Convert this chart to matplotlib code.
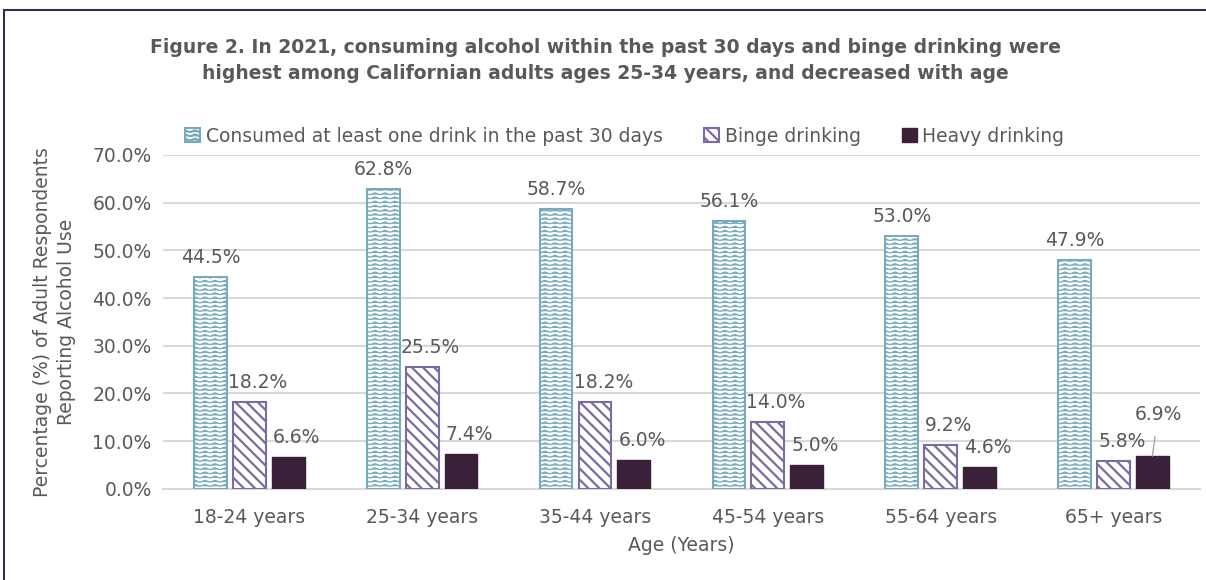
"""Alcohol use by age group, California 2021"""

import numpy as np
import matplotlib
matplotlib.use('Agg')
import matplotlib.pyplot as plt
import matplotlib.hatch as mhatch
from matplotlib.path import Path
from matplotlib.patches import Rectangle

ages = ['18-24 years', '25-34 years', '35-44 years', '45-54 years', '55-64 years', '65+ years']
consumed = [44.5, 62.8, 58.7, 56.1, 53.0, 47.9]
binge = [18.2, 25.5, 18.2, 14.0, 9.2, 5.8]
heavy = [6.6, 7.4, 6.0, 5.0, 4.6, 6.9]
series_names = ['Consumed at least one drink in the past 30 days', 'Binge drinking', 'Heavy drinking']


class WaveHatch(mhatch.HatchPatternBase):
    # zigzag rows for the '~' hatch character
    periods = 10

    def __init__(self, hatch, density):
        self.num_lines = int(hatch.count('~') * density)
        self.pts = 2 * self.periods + 1
        self.num_vertices = self.num_lines * self.pts

    def set_vertices_and_codes(self, vertices, codes):
        if self.num_lines == 0:
            return
        amp = 0.22 / self.num_lines
        xs = np.linspace(0, 1, self.pts)
        wig = np.where(np.arange(self.pts) % 2 == 0, -amp, amp)
        for i in range(self.num_lines):
            y0 = (i + 0.5) / self.num_lines
            sl = slice(i * self.pts, (i + 1) * self.pts)
            vertices[sl, 0] = xs
            vertices[sl, 1] = y0 + wig
            codes[sl] = Path.LINETO
            codes[i * self.pts] = Path.MOVETO


mhatch._hatch_types.append(WaveHatch)

grey = '#595959'
blue = '#78AABD'
purple = '#7A6BA6'
dark = '#3B2039'

plt.rcParams['font.family'] = 'DejaVu Sans'
fig = plt.figure(figsize=(12.06, 5.8), dpi=100)
ax = fig.add_axes([0.135, 0.157, 0.86, 0.576])

x = np.arange(len(ages))
w = 0.19
off = 0.225

plt.rcParams['hatch.linewidth'] = 0.9
b1 = ax.bar(x - off, consumed, w, color='white', edgecolor=blue, hatch='~~~~', linewidth=1.5,
            label=series_names[0], zorder=3)
plt.rcParams['hatch.linewidth'] = 1.6
b2 = ax.bar(x, binge, w, color='white', edgecolor=purple, hatch='\\\\\\', linewidth=1.5,
            label=series_names[1], zorder=3)
b3 = ax.bar(x + off, heavy, w, color=dark, edgecolor=dark, label=series_names[2], zorder=3)

lbl = dict(fontsize=13.5, color=grey, ha='center', va='center')
for i in range(len(ages)):
    ax.annotate(f'{consumed[i]:.1f}%', (x[i] - off, consumed[i]), xytext=(0, 14),
                textcoords='offset points', **lbl)
    ax.annotate(f'{binge[i]:.1f}%', (x[i], binge[i]), xytext=(6, 14),
                textcoords='offset points', **lbl)
    if i == len(ages) - 1:
        ax.annotate(f'{heavy[i]:.1f}%', (x[i] + off, heavy[i]), xytext=(4, 30),
                    textcoords='offset points',
                    arrowprops=dict(arrowstyle='-', color='#A6A6A6', lw=1, shrinkA=7, shrinkB=0),
                    **lbl)
    else:
        ax.annotate(f'{heavy[i]:.1f}%', (x[i] + off, heavy[i]), xytext=(6, 14),
                    textcoords='offset points', **lbl)

ax.set_ylim(0, 70)
ax.set_xlim(-0.5, len(ages) - 0.5)
ax.set_yticks(np.arange(0, 71, 10))
ax.set_yticklabels([f'{v:.1f}%' for v in np.arange(0, 71, 10)])
ax.set_xticks(x)
ax.set_xticklabels(ages)
ax.tick_params(length=0, labelsize=13.5, labelcolor=grey, pad=8)
ax.tick_params(axis='x', pad=14)
ax.grid(axis='y', color='#D9D9D9', linewidth=1.5, zorder=0)
for s in ['top', 'right', 'left']:
    ax.spines[s].set_visible(False)
ax.spines['bottom'].set_color('#D9D9D9')
ax.spines['bottom'].set_linewidth(1.5)

ax.set_xlabel('Age (Years)', fontsize=13.5, color=grey, labelpad=6)
ax.set_ylabel('Percentage (%) of Adult Respondents\nReporting Alcohol Use', fontsize=13.5,
              color=grey, labelpad=12, linespacing=1.3)

fig.legend(handles=[b1, b2, b3], loc='center', bbox_to_anchor=(0.518, 0.765), ncol=3,
           frameon=False, fontsize=13.5, labelcolor=grey, handlelength=0.8, handleheight=0.8,
           handletextpad=0.3, columnspacing=2.2)

fig.text(0.502, 0.896, 'Figure 2. In 2021, consuming alcohol within the past 30 days and binge drinking were\n'
         'highest among Californian adults ages 25-34 years, and decreased with age',
         ha='center', va='center', fontsize=13.5, fontweight='bold', color=grey, linespacing=1.5)

fig.patches.append(Rectangle((4 / 1206, -0.1), 1.2, 1 - 10 / 580 + 0.1, transform=fig.transFigure,
                             fill=False, edgecolor='#3B2A4A', linewidth=1.5))

fig.savefig('out.png', dpi=100)
